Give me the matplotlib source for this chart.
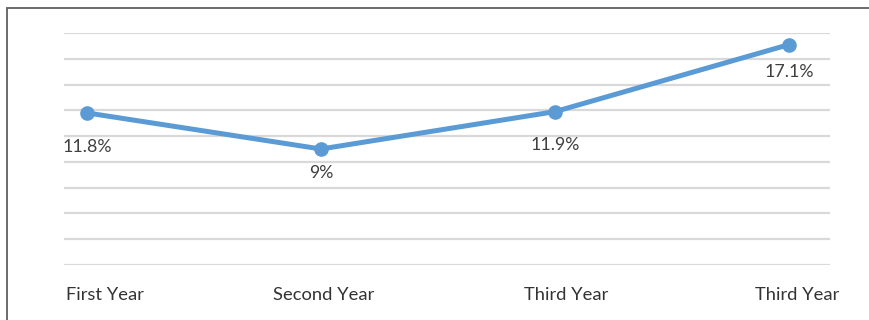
import matplotlib.pyplot as plt
from matplotlib.patches import Rectangle

# chart data
categories = ['First Year', 'Second Year', 'Third Year', 'Third Year']
values = [11.8, 9, 11.9, 17.1]
value_labels = ['11.8%', '9%', '11.9%', '17.1%']

# small per-label nudges (pixels) to follow the original placement
cat_dx = [18, 3, 11, 8]
val_dy = [-34, -24, -33, -27]

W, H, DPI = 869, 320, 100
fig = plt.figure(figsize=(W / DPI, H / DPI), dpi=DPI)
ax = fig.add_axes([64 / W, 1 - 265 / H, 766 / W, 232 / H])

x = list(range(len(values)))
ax.plot(x, values, color='#5B9BD5', lw=3.6, marker='o', markersize=9.5,
        solid_capstyle='round', zorder=3)

ax.set_ylim(0, 18)
ax.set_xlim(-23 / 234, 3 + 41 / 234)
ax.set_yticks(range(0, 19, 2))
ax.grid(axis='y', color='#D9D9D9', lw=1.6)
ax.set_axisbelow(True)
ax.tick_params(left=False, bottom=False, labelleft=False, labelbottom=False)
for s in ax.spines.values():
    s.set_visible(False)

font = 'Lato'
for i, v in enumerate(values):
    ax.annotate(value_labels[i], (i, v), xytext=(0, val_dy[i] * 72 / DPI),
                textcoords='offset points', ha='center', va='center',
                fontsize=12.8, color='#404040', family=font)
    ax.annotate(categories[i], (i, 0), xytext=(cat_dx[i] * 72 / DPI, -30 * 72 / DPI),
                textcoords='offset points', ha='center', va='center',
                fontsize=13.2, color='#333333', family=font)

# outer frame, cut off at right and bottom
fig.patches.append(Rectangle((7 / W, -0.2), 1.2, 1.2 - 7.5 / H,
                             transform=fig.transFigure, fill=False,
                             edgecolor='#606060', lw=1.3))

fig.savefig('out.png', dpi=DPI)
